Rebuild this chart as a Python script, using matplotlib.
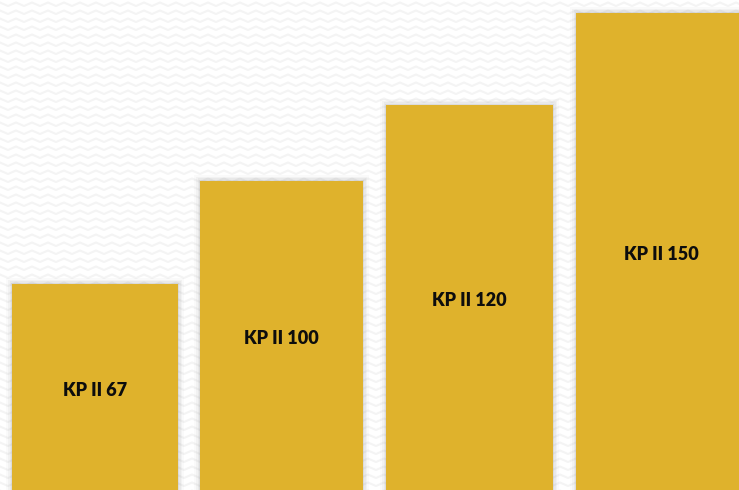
import matplotlib

matplotlib.use("Agg")
import matplotlib.pyplot as plt
import numpy as np
from matplotlib.patches import Rectangle

# values (bar heights, pixel-scale units)
labels = ["KP II 67", "KP II 100", "KP II 120", "KP II 150"]
heights = [206, 309, 385, 477]
lefts = [12, 200, 386, 576]
widths = [166, 163, 167, 170]

BAR_COLOR = "#dfb22c"
W, H = 739, 490

fig = plt.figure(figsize=(W / 100, H / 100), dpi=100)
ax = fig.add_axes([0, 0, 1, 1])
ax.set_xlim(0, W)
ax.set_ylim(0, H)
ax.axis("off")

# faint zigzag background texture
xs = np.arange(-8, W + 16, 8)
for y0 in np.arange(-4, H + 8, 8):
    ys = y0 + np.where((np.arange(len(xs)) % 2) == 0, 0, 3.5)
    ax.plot(xs, ys, color="#f4f4f4", linewidth=1.5, zorder=0)

for lab, h, x0, w in zip(labels, heights, lefts, widths):
    # soft shadow
    for pad, a in [(6, 0.04), (4, 0.06), (2.5, 0.08), (1.2, 0.12)]:
        ax.add_patch(Rectangle((x0 - pad, -10), w + 2 * pad, h + 10 + pad,
                               facecolor="#808080", alpha=a, edgecolor="none", zorder=1))
    ax.add_patch(Rectangle((x0, -10), w, h + 10, facecolor=BAR_COLOR,
                           edgecolor="none", zorder=2))
    ax.text(x0 + w / 2, h / 2 - 3, lab, ha="center", va="center", fontsize=13,
            fontweight="heavy", family=["Lato", "DejaVu Sans"], color="#0d0d0d", zorder=3)

fig.savefig("out.png", dpi=100)
